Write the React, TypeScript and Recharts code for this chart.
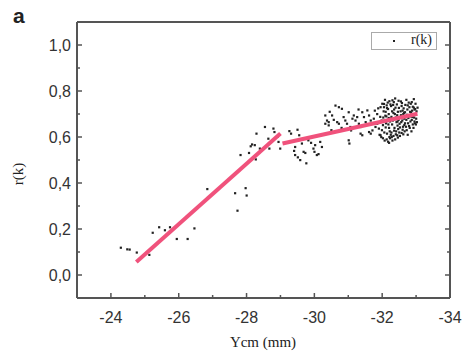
import React from 'react';
import { ScatterChart, Scatter, XAxis, YAxis, Legend } from 'recharts';

// ticks (minor + major), majors get labels
const xTicks = [-24, -25, -26, -27, -28, -29, -30, -31, -32, -33, -34];
const yTicks = [0, 0.1, 0.2, 0.3, 0.4, 0.5, 0.6, 0.7, 0.8, 0.9, 1.0];

// r(k) samples
const lowPoints: [number, number][] = [
  [-24.29, 0.119], [-24.48, 0.112], [-24.55, 0.111], [-24.76, 0.098], [-25.13, 0.088],
  [-25.23, 0.184], [-25.42, 0.208], [-25.59, 0.195], [-25.74, 0.208], [-25.94, 0.157],
  [-26.26, 0.157], [-26.46, 0.203], [-26.84, 0.374], [-27.66, 0.356], [-27.97, 0.378],
  [-28.0, 0.346], [-27.73, 0.28],
];

const kneePoints: [number, number][] = [
  [-27.82, 0.522], [-28.07, 0.531], [-28.16, 0.568], [-28.12, 0.56], [-28.24, 0.565],
  [-28.29, 0.615], [-28.27, 0.503], [-28.39, 0.55], [-28.54, 0.644], [-28.64, 0.593],
  [-28.67, 0.55], [-28.79, 0.637], [-28.82, 0.622], [-28.91, 0.601], [-28.94, 0.579],
  [-28.99, 0.55], [-29.26, 0.626], [-29.31, 0.615], [-29.5, 0.632], [-29.55, 0.608],
  [-29.43, 0.557], [-29.4, 0.54], [-29.43, 0.522], [-29.51, 0.512], [-29.58, 0.5],
  [-29.68, 0.536], [-29.73, 0.531], [-29.63, 0.572], [-29.82, 0.586], [-29.9, 0.575],
  [-29.76, 0.486], [-29.97, 0.55], [-30.0, 0.536], [-30.02, 0.565], [-30.07, 0.522],
  [-30.12, 0.526], [-30.17, 0.579], [-30.22, 0.557], [-30.32, 0.658], [-30.37, 0.672],
  [-30.42, 0.651],
];

const midPoints: [number, number][] = [
  [-30.32, 0.694], [-30.42, 0.665], [-30.52, 0.694], [-30.57, 0.675], [-30.62, 0.737],
  [-30.67, 0.665], [-30.72, 0.73], [-30.72, 0.658], [-30.81, 0.723], [-30.86, 0.687],
  [-30.91, 0.672], [-30.96, 0.658], [-31.01, 0.708], [-31.06, 0.644], [-31.08, 0.629],
  [-31.01, 0.586], [-31.03, 0.572], [-31.16, 0.694], [-31.21, 0.672], [-31.26, 0.687],
  [-31.31, 0.658], [-31.36, 0.644], [-31.41, 0.708], [-31.46, 0.687], [-31.51, 0.665],
  [-31.36, 0.615], [-31.41, 0.608], [-31.56, 0.716], [-31.61, 0.694], [-31.66, 0.672],
  [-31.71, 0.658], [-31.75, 0.68], [-31.61, 0.622], [-31.66, 0.615], [-31.71, 0.629],
  [-31.8, 0.644], [-31.85, 0.658], [-31.9, 0.637], [-31.95, 0.608], [-31.95, 0.73],
  [-32.05, 0.744], [-31.85, 0.7], [-31.78, 0.715], [-31.88, 0.725], [-31.3, 0.72],
  [-31.2, 0.64], [-31.12, 0.68], [-30.8, 0.64], [-30.5, 0.63], [-30.45, 0.71],
];

const clusterPoints: [number, number][] = [
  [-32.0, 0.745], [-32.05, 0.73], [-32.1, 0.71], [-32.12, 0.69], [-32.15, 0.67],
  [-32.18, 0.655], [-32.2, 0.64], [-32.22, 0.625], [-32.25, 0.61], [-32.28, 0.6],
  [-32.3, 0.76], [-32.32, 0.74], [-32.35, 0.72], [-32.37, 0.7], [-32.4, 0.685],
  [-32.42, 0.665], [-32.45, 0.65], [-32.47, 0.635], [-32.5, 0.62], [-32.52, 0.605],
  [-32.55, 0.755], [-32.57, 0.735], [-32.6, 0.715], [-32.62, 0.7], [-32.65, 0.68],
  [-32.67, 0.66], [-32.7, 0.645], [-32.72, 0.63], [-32.75, 0.61], [-32.78, 0.75],
  [-32.8, 0.73], [-32.82, 0.71], [-32.85, 0.69], [-32.87, 0.675], [-32.9, 0.655],
  [-32.92, 0.64], [-32.95, 0.72], [-32.97, 0.7], [-33.0, 0.68], [-33.02, 0.665],
  [-32.98, 0.745], [-32.93, 0.765], [-32.08, 0.762], [-32.16, 0.75], [-32.26, 0.735],
  [-32.33, 0.705], [-32.44, 0.695], [-32.48, 0.675], [-32.58, 0.69], [-32.63, 0.725],
  [-32.68, 0.74], [-32.74, 0.72], [-32.84, 0.745], [-32.88, 0.715], [-32.94, 0.685],
  [-32.99, 0.655], [-32.03, 0.685], [-32.11, 0.66], [-32.19, 0.7], [-32.24, 0.68],
  [-32.29, 0.655], [-32.36, 0.64], [-32.41, 0.625], [-32.46, 0.71], [-32.53, 0.685],
  [-32.56, 0.665], [-32.61, 0.645], [-32.66, 0.625], [-32.71, 0.675], [-32.76, 0.66],
  [-32.81, 0.64], [-32.86, 0.625], [-32.91, 0.7], [-32.96, 0.66], [-31.92, 0.61],
  [-31.97, 0.6], [-32.02, 0.595], [-32.07, 0.585], [-32.13, 0.59], [-32.17, 0.58],
  [-32.23, 0.595], [-32.27, 0.62], [-32.33, 0.605], [-32.38, 0.59], [-32.06, 0.62],
  [-31.99, 0.63], [-32.14, 0.615], [-32.21, 0.6],
];

const clusterCore: [number, number][] = [
  [-32.04, 0.712], [-32.09, 0.693], [-32.13, 0.738], [-32.17, 0.722], [-32.21, 0.756],
  [-32.23, 0.668], [-32.27, 0.688], [-32.31, 0.672], [-32.34, 0.752], [-32.39, 0.728],
  [-32.43, 0.742], [-32.44, 0.608], [-32.49, 0.727], [-32.51, 0.658], [-32.54, 0.712],
  [-32.59, 0.672], [-32.6, 0.632], [-32.64, 0.705], [-32.69, 0.688], [-32.71, 0.762],
  [-32.73, 0.697], [-32.77, 0.683], [-32.79, 0.648], [-32.83, 0.668], [-32.87, 0.752],
  [-32.89, 0.688], [-32.93, 0.728], [-32.95, 0.668], [-33.01, 0.712], [-33.04, 0.728],
  [-32.36, 0.678], [-32.29, 0.712], [-32.19, 0.683], [-32.1, 0.642], [-32.06, 0.668],
  [-31.98, 0.672], [-31.94, 0.688], [-32.52, 0.642], [-32.57, 0.618], [-32.62, 0.612],
  [-32.4, 0.612], [-32.46, 0.598], [-32.3, 0.585], [-32.2, 0.575], [-32.35, 0.628],
  [-32.67, 0.708], [-32.75, 0.738], [-32.85, 0.707], [-32.58, 0.748], [-32.48, 0.758],
  [-32.38, 0.768], [-32.24, 0.742], [-32.14, 0.726], [-32.02, 0.652], [-32.9, 0.732],
  [-32.97, 0.722], [-32.81, 0.692], [-32.65, 0.652], [-32.55, 0.695], [-32.45, 0.668],
];

// two linear fits
const fitA: [number, number][] = [[-24.75, 0.057], [-29.0, 0.615]];
const fitB: [number, number][] = [[-29.06, 0.572], [-33.04, 0.701]];

const toRows = (pts: [number, number][]) => pts.map(([x, y]) => ({ x, y }));
const samples = toRows([...lowPoints, ...kneePoints, ...midPoints, ...clusterPoints, ...clusterCore]);

const AXIS = '#555';
const PINK = '#f0527c';
const SANS = '"Liberation Sans", Arial, sans-serif';
const SERIF = '"Liberation Serif", "Times New Roman", serif';

const isMajorX = (v: number) => Math.abs(v) % 2 === 0;
const isMajorY = (v: number) => Math.round(v * 10) % 2 === 0;
const fmtY = (v: number) => v.toFixed(1).replace('.', ',');

const BottomTick = (props: any) => {
  const { x, y, payload } = props;
  const v = payload.value;
  const major = isMajorX(v);
  return (
    <g>
      <line x1={x} y1={y} x2={x} y2={y - (major ? 5 : 3)} stroke={AXIS} strokeWidth={1.5} />
      {major && (
        <text x={x} y={y + 25} textAnchor="middle" fontSize={16} fill="#333" fontFamily={SANS}>
          {v}
        </text>
      )}
    </g>
  );
};

const TopTick = (props: any) => {
  const { x, y, payload } = props;
  const major = isMajorX(payload.value);
  return <line x1={x} y1={y} x2={x} y2={y + (major ? 5 : 3)} stroke={AXIS} strokeWidth={1.5} />;
};

const LeftTick = (props: any) => {
  const { x, y, payload } = props;
  const v = payload.value;
  const major = isMajorY(v);
  return (
    <g>
      <line x1={x} y1={y} x2={x + (major ? 5 : 3)} y2={y} stroke={AXIS} strokeWidth={1.5} />
      {major && (
        <text x={x - 6} y={y + 6} textAnchor="end" fontSize={16} fill="#333" fontFamily={SANS}>
          {fmtY(v)}
        </text>
      )}
    </g>
  );
};

const RightTick = (props: any) => {
  const { x, y, payload } = props;
  const major = isMajorY(payload.value);
  return <line x1={x} y1={y} x2={x - (major ? 5 : 3)} y2={y} stroke={AXIS} strokeWidth={1.5} />;
};

const Dot = (props: any) => (
  <rect x={props.cx - 1} y={props.cy - 1} width={2.2} height={2.2} fill="#222" />
);
const NoShape = () => <g />;

const LegendBox = () => (
  <div
    style={{
      width: 64,
      height: 16,
      border: '1px solid #aaa',
      position: 'relative',
      background: '#fff',
    }}
  >
    <div style={{ position: 'absolute', left: 21, top: 7, width: 2, height: 2, background: '#222' }} />
    <span
      style={{
        position: 'absolute',
        left: 39,
        top: -1,
        fontFamily: SERIF,
        fontSize: 14,
        color: '#222',
      }}
    >
      r(k)
    </span>
  </div>
);

const App = () => (
  <div style={{ position: 'absolute', left: 0, top: 0, width: 465, height: 354, background: '#fff' }}>
    <ScatterChart width={465} height={354} margin={{ top: 21, right: 14, bottom: 0, left: 0 }}>
      <XAxis
        dataKey="x"
        type="number"
        domain={[-34, -23]}
        reversed
        allowDataOverflow
        ticks={xTicks}
        interval={0}
        tickSize={0}
        tickMargin={0}
        height={56}
        stroke={AXIS}
        strokeWidth={2}
        tick={<BottomTick />}
        label={{
          content: () => (
            <text x={263} y={347} textAnchor="middle" fontSize={15} fontFamily={SERIF} fill="#222">
              Ycm (mm)
            </text>
          ),
        }}
      />
      <XAxis
        xAxisId="top"
        orientation="top"
        type="number"
        domain={[-34, -23]}
        reversed
        allowDataOverflow
        ticks={xTicks}
        interval={0}
        tickSize={0}
        tickMargin={0}
        height={1}
        stroke={AXIS}
        strokeWidth={2}
        tick={<TopTick />}
      />
      <YAxis
        dataKey="y"
        type="number"
        domain={[-0.1, 1.1]}
        allowDataOverflow
        ticks={yTicks}
        interval={0}
        tickSize={0}
        tickMargin={0}
        width={77}
        stroke={AXIS}
        strokeWidth={2}
        tick={<LeftTick />}
        label={{
          content: () => (
            <text
              x={23}
              y={174}
              textAnchor="middle"
              fontSize={15}
              fontFamily={SERIF}
              fill="#222"
              transform="rotate(-90 23 174)"
            >
              r(k)
            </text>
          ),
        }}
      />
      <YAxis
        yAxisId="right"
        orientation="right"
        type="number"
        domain={[-0.1, 1.1]}
        allowDataOverflow
        ticks={yTicks}
        interval={0}
        tickSize={0}
        tickMargin={0}
        width={1}
        stroke={AXIS}
        strokeWidth={2}
        tick={<RightTick />}
      />
      <Legend
        layout="vertical"
        align="center"
        verticalAlign="middle"
        content={() => <LegendBox />}
        wrapperStyle={{ position: 'absolute', left: 371, top: 32, width: 66, height: 18 }}
      />
      <Scatter data={samples} shape={<Dot />} isAnimationActive={false} />
      <Scatter
        data={toRows(fitA)}
        shape={<NoShape />}
        line={{ stroke: PINK, strokeWidth: 4 }}
        isAnimationActive={false}
        legendType="none"
      />
      <Scatter
        data={toRows(fitB)}
        shape={<NoShape />}
        line={{ stroke: PINK, strokeWidth: 4 }}
        isAnimationActive={false}
        legendType="none"
      />
    </ScatterChart>
    <div
      style={{
        position: 'absolute',
        left: 13,
        top: 4,
        fontFamily: SANS,
        fontWeight: 'bold',
        fontSize: 21,
        color: '#222',
      }}
    >
      a
    </div>
  </div>
);

export default App;
